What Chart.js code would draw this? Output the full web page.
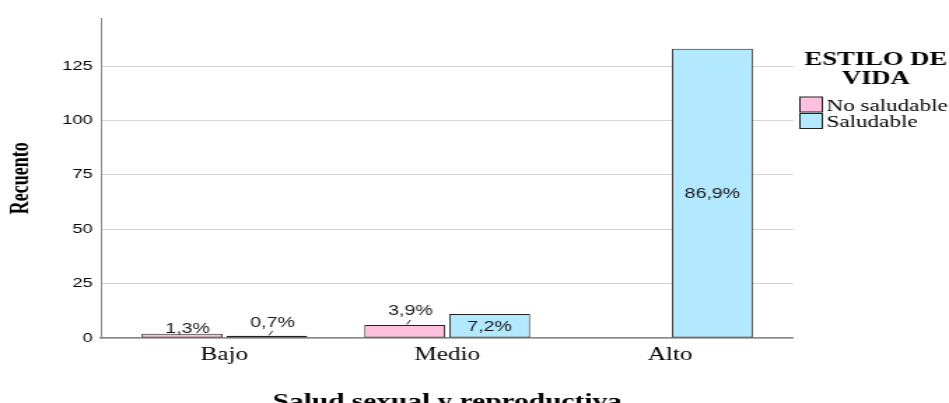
<!DOCTYPE html>
<html>
<head>
<meta charset="utf-8">
<script src="https://cdn.jsdelivr.net/npm/chart.js@4.4.1/dist/chart.umd.min.js"></script>
<style>
  html, body { margin: 0; padding: 0; background: #fff; }
  /* the source picture is stretched sideways, so the canvas is drawn narrow and widened by css */
  #chart { display: block; width: 949px !important; height: 403px !important; }
</style>
</head>
<body>
<canvas id="chart" width="678" height="403"></canvas>
<script>
const categories = ['Bajo', 'Medio', 'Alto'];
const noSaludable = [2, 6, null];
const saludable = [1, 11, 133];
const pctNoSaludable = ['1,3%', '3,9%', null];
const pctSaludable = ['0,7%', '7,2%', '86,9%'];
const yTicks = [0, 25, 50, 75, 100, 125];
const yMax = 147;

// category axis with the extra room SPSS leaves at both ends
class PaddedCategory extends Chart.CategoryScale {
  configure() {
    super.configure();
    const edge = this.options.edge || 0.5;
    this._startValue = this.min - edge;
    this._valueRange = this.max - this.min + 2 * edge;
  }
}
PaddedCategory.id = 'paddedCategory';
PaddedCategory.defaults = Chart.CategoryScale.defaults;
Chart.register(PaddedCategory);

const labelPlugin = {
  id: 'pctLabels',
  afterDatasetsDraw(chart, args, opts) {
    const ctx = chart.ctx;
    ctx.save();
    ctx.font = '14px "Liberation Sans"';
    ctx.fillStyle = '#1a1a1a';
    ctx.strokeStyle = '#333';
    ctx.lineWidth = 1;
    ctx.textAlign = 'center';
    chart.data.datasets.forEach((ds, i) => {
      chart.getDatasetMeta(i).data.forEach((bar, j) => {
        const text = ds.pctLabels[j];
        if (!text || ds.data[j] == null) return;
        if (bar.base - bar.y > 20) {
          ctx.textBaseline = 'middle';
          ctx.fillText(text, bar.x, (bar.y + bar.base) / 2 + 1.5);
          return;
        }
        const lift = opts.lift[i + ',' + j] ?? 9;
        ctx.textBaseline = 'alphabetic';
        ctx.fillText(text, bar.x + 4, bar.y - lift);
        if (lift > 4) {
          ctx.beginPath();
          ctx.moveTo(bar.x + 1.5, bar.y - 0.5);
          ctx.lineTo(bar.x + 4, bar.y - 5);
          ctx.stroke();
        }
      });
    });
    ctx.restore();
  }
};

const legendPlugin = {
  id: 'spssLegend',
  afterDraw(chart) {
    const ctx = chart.ctx;
    ctx.save();
    ctx.fillStyle = '#000';
    ctx.textAlign = 'center';
    ctx.textBaseline = 'alphabetic';
    ctx.font = 'bold 19px "Liberation Serif"';
    ctx.fillText('ESTILO DE', 625.7, 65);
    ctx.fillText('VIDA', 625.7, 83.5);
    chart.data.datasets.forEach((ds, i) => {
      const y = 97 + i * 16.5;
      ctx.fillStyle = ds.backgroundColor;
      ctx.fillRect(571.5, y, 16, 15);
      ctx.strokeStyle = '#222';
      ctx.lineWidth = 1;
      ctx.strokeRect(571.5, y, 16, 15);
      ctx.fillStyle = '#000';
      ctx.textAlign = 'left';
      ctx.font = '16.5px "Liberation Serif"';
      ctx.fillText(ds.label, 590.5, y + 13.5);
    });
    ctx.restore();
  }
};

Chart.defaults.font.family = 'Liberation Serif';
Chart.defaults.color = '#000';

new Chart(document.getElementById('chart'), {
  type: 'bar',
  data: {
    labels: categories,
    datasets: [
      {
        label: 'No saludable',
        data: noSaludable,
        pctLabels: pctNoSaludable,
        backgroundColor: '#ffc0e0',
        borderColor: '#222',
        borderWidth: 1,
        borderSkipped: false
      },
      {
        label: 'Saludable',
        data: saludable,
        pctLabels: pctSaludable,
        backgroundColor: '#b3e9ff',
        borderColor: '#222',
        borderWidth: 1,
        borderSkipped: false
      }
    ]
  },
  plugins: [labelPlugin, legendPlugin],
  options: {
    responsive: false,
    devicePixelRatio: 1,
    animation: false,
    events: [],
    categoryPercentage: 0.762,
    barPercentage: 0.953,
    layout: { padding: { top: 18.3, right: 111.2, left: 0, bottom: 0 } },
    plugins: {
      legend: { display: false },
      tooltip: { enabled: false },
      pctLabels: { lift: { '0,0': 1, '1,0': 9, '0,1': 10 } }
    },
    scales: {
      x: {
        type: 'paddedCategory',
        edge: 0.554,
        grid: { display: false, drawTicks: false },
        border: { display: true, color: '#8a8a8a', width: 1.5 },
        ticks: { color: '#000', font: { family: 'Liberation Serif', size: 18 }, padding: 6, maxRotation: 0 },
        title: {
          display: true,
          text: 'Salud sexual y reproductiva',
          color: '#000',
          font: { family: 'Liberation Serif', size: 21, weight: 'bold' },
          padding: { top: 0, bottom: -12.5 }
        },
        afterFit: s => { s.height = 65; }
      },
      y: {
        min: 0,
        max: yMax,
        afterBuildTicks: s => { s.ticks = yTicks.map(v => ({ value: v })); },
        grid: { color: '#d4d4d4', lineWidth: 1, drawTicks: false },
        border: { color: '#8a8a8a', width: 1 },
        ticks: { color: '#000', font: { family: 'Liberation Sans', size: 13 }, padding: 6 },
        title: {
          display: true,
          text: 'Recuento',
          color: '#000',
          font: { family: 'Liberation Serif', size: 18, weight: 'bold' },
          padding: { top: 5, bottom: 0 }
        },
        afterFit: s => { s.width = 72.2; }
      }
    }
  }
});
</script>
</body>
</html>
